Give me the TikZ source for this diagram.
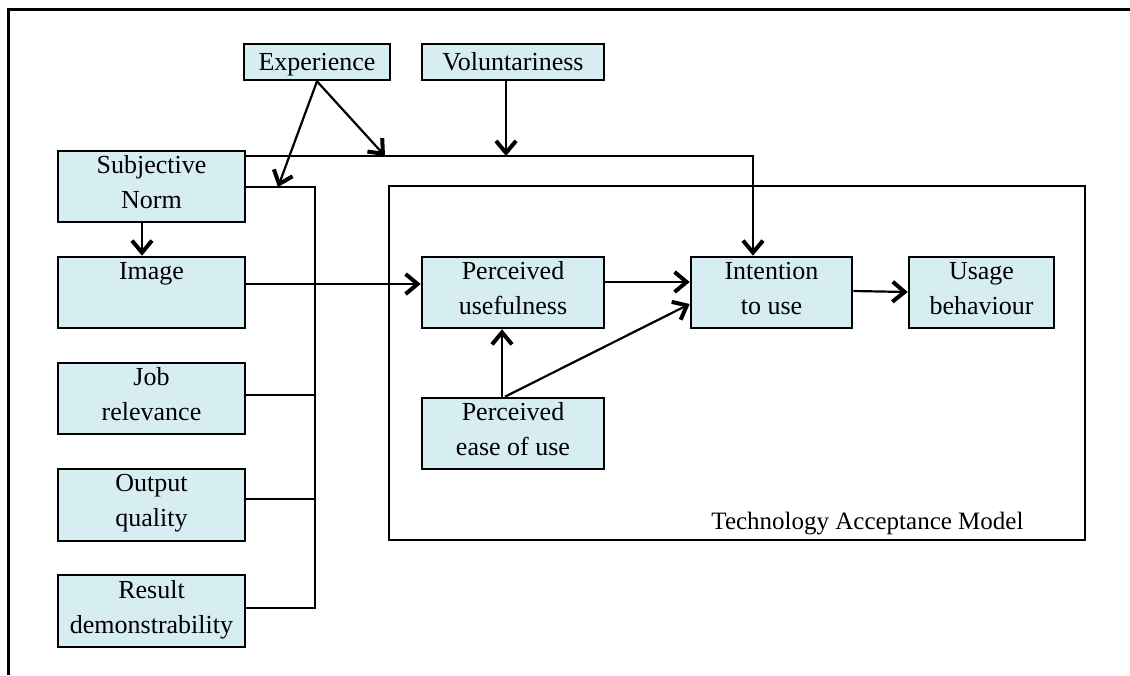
\documentclass[tikz,border=0pt]{standalone}
\usepackage{fontspec}
\setmainfont{Liberation Serif}
\usetikzlibrary{arrows.meta}
\definecolor{boxfill}{RGB}{214,237,241}
% fixed line height and depth so every box sets its lines alike
\newcommand{\boxstrut}{\rule[-9pt]{0pt}{35pt}}
\begin{document}
\begin{tikzpicture}[x=1pt,y=-1pt,
  every node/.style={font=\fontsize{26}{35}\selectfont},
  factor/.style={draw, line width=2.6pt, fill=boxfill, align=center, inner sep=0pt,
    execute at begin node=\boxstrut, execute at end node=\boxstrut},
  frame/.style={draw, line width=2.6pt, inner sep=0pt},
  conn/.style={line width=2.2pt},
  arr/.style={conn, -{Straight Barb[length=12pt,width=20pt,line width=4pt]}},
]
\useasboundingbox (0,0) rectangle (1130,675);

% outer frame
\draw[line width=3pt] (8,675) -- (8,9) -- (1130,9);

% TAM frame and its caption
\node[frame, minimum width=696pt, minimum height=354pt] (tam) at (737,363) {};
\node[anchor=base east, font=\fontsize{25}{30}\selectfont] (tamlabel) at (1027,529) {Technology Acceptance Model};

% moderators
\node[factor, minimum width=146pt, minimum height=36pt] (exp) at (317,62) {Experience};
\node[factor, minimum width=182pt, minimum height=36pt] (vol) at (513,62) {Voluntariness};

% external variables
\node[factor, minimum width=187pt, minimum height=71pt] (sn)  at (151.5,186.5) {Subjective\\Norm};
\node[factor, minimum width=187pt, minimum height=71pt] (img) at (151.5,292.5) {Image\\\mbox{}};
\node[factor, minimum width=187pt, minimum height=71pt] (job) at (151.5,398.5) {Job\\relevance};
\node[factor, minimum width=187pt, minimum height=72pt] (out) at (151.5,505) {Output\\quality};
\node[factor, minimum width=187pt, minimum height=72pt] (res) at (151.5,611) {Result\\demonstrability};

% TAM core
\node[factor, minimum width=182pt, minimum height=71pt] (pu)   at (513,292.5) {Perceived\\usefulness};
\node[factor, minimum width=182pt, minimum height=71pt] (peou) at (513,433.5) {Perceived\\ease of use};
\node[factor, minimum width=161pt, minimum height=71pt] (int)  at (771.5,292.5) {Intention\\to use};
\node[factor, minimum width=145pt, minimum height=71pt] (use)  at (981.5,292.5) {Usage\\behaviour};

% junction points
\coordinate (top) at (753,156);
\coordinate (e1) at (278,187);
\coordinate (e2) at (385,156);
\coordinate (v2) at (506,156);
\coordinate (bk) at (315,187);
\coordinate (bkJ) at (315,395);
\coordinate (bkO) at (315,499);
\coordinate (bkR) at (315,608);

% bracket collecting the external variables
\draw[conn] (sn.east |- bk) -- (bk) -- (bkR) -- (res.east |- bkR);
\draw[conn] (job.east |- bkJ) -- (bkJ);
\draw[conn] (out.east |- bkO) -- (bkO);

% subjective norm to intention
\draw[arr] (sn.east |- top) -| (int.north -| top);
\draw[arr] ([xshift=-9.5pt]sn.south) -- ([xshift=-9.5pt]img.north);

% moderators
\draw[arr] (exp.south) -- (e1);
\draw[arr] (exp.south) -- (e2);
\draw[arr] (vol.south -| v2) -- (v2);

% into and within TAM
\draw[arr] ([yshift=8.5pt]img.east) -- ([yshift=8.5pt]pu.west);
\draw[arr] ([yshift=10.5pt]pu.east) -- ([yshift=10.5pt]int.west);
\draw[arr] ([xshift=-11pt]peou.north) -- ([xshift=-11pt]pu.south);
\draw[arr] ([xshift=-8pt]peou.north) -- ([yshift=-11.5pt]int.west);
\draw[arr] ([yshift=1.5pt]int.east) -- ([yshift=0.5pt]use.west);
\end{tikzpicture}
\end{document}
